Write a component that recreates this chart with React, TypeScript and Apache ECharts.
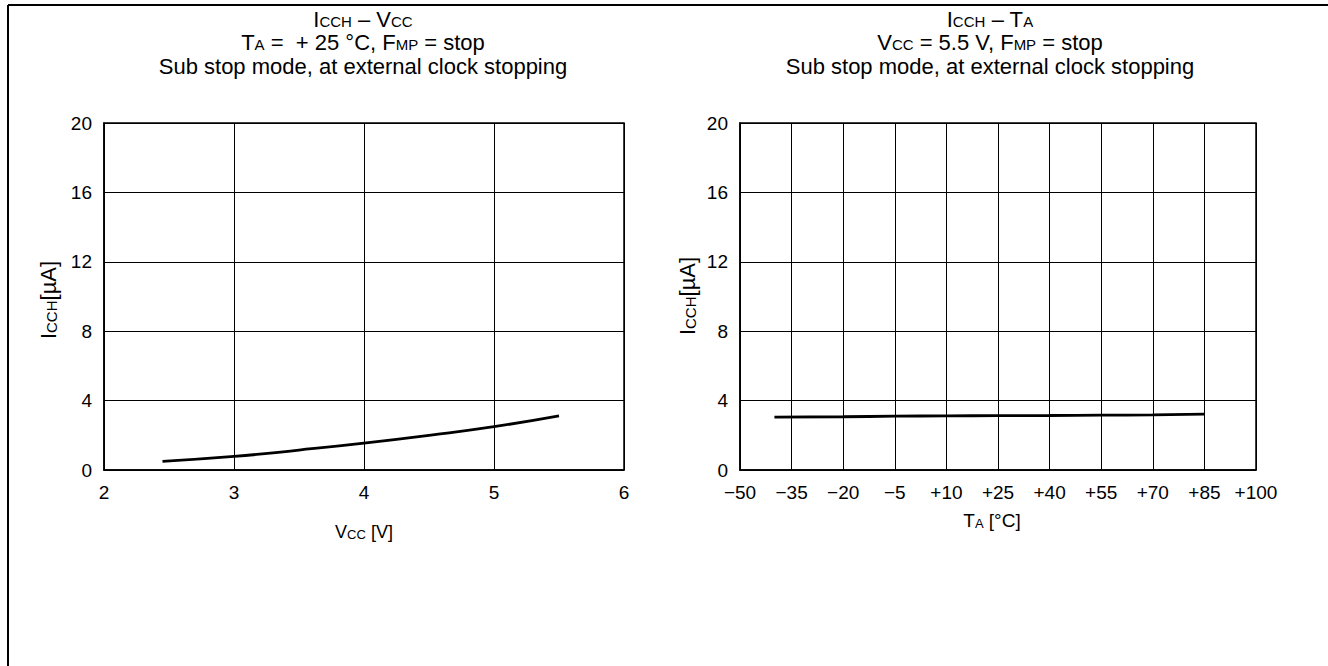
import React, { useEffect, useRef } from "react";
import * as echarts from "echarts";

// Left chart: ICCH vs VCC
const vccValues = [2.45, 3.0, 3.5, 4.0, 4.5, 5.0, 5.5];
const iccVsVcc = [0.5, 0.78, 1.15, 1.55, 2.0, 2.5, 3.12];

// Right chart: ICCH vs TA
const taValues = [-40, -20, -5, 10, 25, 40, 55, 70, 85];
const iccVsTa = [3.05, 3.07, 3.1, 3.12, 3.13, 3.14, 3.16, 3.18, 3.22];

const taOffset = 50; // axis for TA runs 0..150, labels shifted to -50..+100
const yTicks = [0, 4, 8, 12, 16, 20];

const FONT = "'Liberation Sans', Arial, Helvetica, sans-serif";

function fmtTa(v: number): string {
  const t = Math.round(v - taOffset);
  if (t < 0) return "\u2212" + Math.abs(t);
  if (t === 0) return "0";
  return "+" + t;
}

export default function App() {
  const ref = useRef<HTMLDivElement>(null);
  useEffect(() => {
    document.body.style.margin = "0";
    const chart = echarts.init(ref.current!, null, { renderer: "svg" });
    const mkRich = (big: number, small: number, lh: number) => ({
      n: { fontSize: big, fontFamily: FONT, color: "#000", lineHeight: lh },
      s: { fontSize: small, fontFamily: FONT, color: "#000", verticalAlign: "bottom", lineHeight: lh },
    });
    const titleRich = mkRich(22, 15, 20);
    const titleText = (x: number, y: number, text: string) => ({
      type: "text",
      x,
      y,
      style: {
        text,
        rich: titleRich,
        fontSize: 22,
        lineHeight: 20,
        fontFamily: FONT,
        fill: "#000",
        textAlign: "center",
        textVerticalAlign: "middle",
      },
    });
    const yName = (x: number, y: number) => ({
      type: "text",
      x,
      y,
      rotation: Math.PI / 2,
      style: {
        text: "{n|I}{s|CCH}{n|[\u00B5A]}",
        rich: mkRich(22, 15, 22),
        fontSize: 22,
        fontFamily: FONT,
        fill: "#000",
        textAlign: "center",
        textVerticalAlign: "middle",
      },
    });
    const axisCommon = {
      axisLine: { show: true, lineStyle: { color: "#000", width: 1.5 } },
      axisTick: { show: false },
      splitLine: { show: true, lineStyle: { color: "#000", width: 1 } },
      axisLabel: { color: "#000", fontSize: 19, fontFamily: FONT },
    };
    const option: any = {
      animation: false,
      backgroundColor: "#fff",
      grid: [
        { left: 104, top: 123, width: 520, height: 347, show: true, borderColor: "#000", borderWidth: 1.5 },
        { left: 740, top: 123, width: 516, height: 347, show: true, borderColor: "#000", borderWidth: 1.5 },
      ],
      xAxis: [
        {
          ...axisCommon,
          type: "value",
          gridIndex: 0,
          min: 2,
          max: 6,
          interval: 1,
          axisLabel: { ...axisCommon.axisLabel, margin: 13 },
        },
        {
          ...axisCommon,
          type: "value",
          gridIndex: 1,
          min: 0,
          max: 150,
          interval: 15,
          axisLabel: { ...axisCommon.axisLabel, margin: 13, formatter: fmtTa },
        },
      ],
      yAxis: [
        {
          ...axisCommon,
          type: "value",
          gridIndex: 0,
          min: yTicks[0],
          max: yTicks[yTicks.length - 1],
          interval: 4,
          axisLabel: { ...axisCommon.axisLabel, margin: 12 },
        },
        {
          ...axisCommon,
          type: "value",
          gridIndex: 1,
          min: yTicks[0],
          max: yTicks[yTicks.length - 1],
          interval: 4,
          axisLabel: { ...axisCommon.axisLabel, margin: 12 },
        },
      ],
      series: [
        {
          type: "line",
          xAxisIndex: 0,
          yAxisIndex: 0,
          data: vccValues.map((v, i) => [v, iccVsVcc[i]]),
          smooth: true,
          showSymbol: false,
          symbol: "none",
          lineStyle: { color: "#000", width: 2.8 },
        },
        {
          type: "line",
          xAxisIndex: 1,
          yAxisIndex: 1,
          data: taValues.map((t, i) => [t + taOffset, iccVsTa[i]]),
          smooth: true,
          showSymbol: false,
          symbol: "none",
          lineStyle: { color: "#000", width: 2.8 },
        },
      ],
      graphic: [
        { type: "line", shape: { x1: 8, y1: 5, x2: 1328, y2: 5 }, style: { stroke: "#000", lineWidth: 2 } },
        { type: "line", shape: { x1: 8, y1: 5, x2: 8, y2: 666 }, style: { stroke: "#000", lineWidth: 2 } },
        titleText(363, 19, "{n|I}{s|CCH}{n| \u2013 V}{s|CC}"),
        titleText(363, 42, "{n|T}{s|A}{n| =  + 25 \u00B0C, F}{s|MP}{n| = stop}"),
        titleText(363, 66, "Sub stop mode, at external clock stopping"),
        titleText(990, 19, "{n|I}{s|CCH}{n| \u2013 T}{s|A}"),
        titleText(990, 42, "{n|V}{s|CC}{n| = 5.5 V, F}{s|MP}{n| = stop}"),
        titleText(990, 66, "Sub stop mode, at external clock stopping"),
        yName(48, 300),
        yName(687, 296),
        {
          type: "text",
          x: 364,
          y: 532,
          style: {
            text: "{n|V}{s|CC}{n| [V]}",
            rich: mkRich(18, 13, 18),
            fontSize: 18,
            fontFamily: FONT,
            fill: "#000",
            textAlign: "center",
            textVerticalAlign: "middle",
          },
        },
        {
          type: "text",
          x: 992,
          y: 520,
          style: {
            text: "{n|T}{s|A}{n| [\u00B0C]}",
            rich: mkRich(19, 13, 19),
            fontSize: 19,
            fontFamily: FONT,
            fill: "#000",
            textAlign: "center",
            textVerticalAlign: "middle",
          },
        },
      ],
    };
    chart.setOption(option);
    return () => chart.dispose();
  }, []);
  return (
    <div
      ref={ref}
      style={{ position: "absolute", left: 0, top: 0, width: 1328, height: 666, background: "#fff" }}
    />
  );
}
